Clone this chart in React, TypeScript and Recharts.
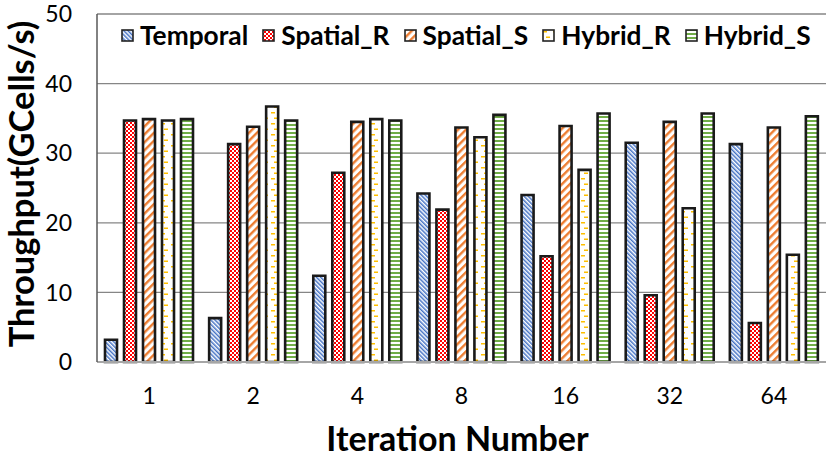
import React from 'react';
import { BarChart, Bar, XAxis, YAxis, CartesianGrid, Legend } from 'recharts';

const categories = ['1', '2', '4', '8', '16', '32', '64'];
const temporal = [3.2, 6.3, 12.4, 24.2, 24.0, 31.5, 31.3];
const spatialR = [34.7, 31.3, 27.2, 21.9, 15.2, 9.6, 5.6];
const spatialS = [34.9, 33.8, 34.5, 33.7, 33.9, 34.5, 33.7];
const hybridR = [34.7, 36.7, 34.9, 32.3, 27.6, 22.1, 15.4];
const hybridS = [34.9, 34.7, 34.7, 35.5, 35.7, 35.7, 35.3];
const yTicks = [0, 10, 20, 30, 40, 50];

const seriesNames = ['Temporal', 'Spatial_R', 'Spatial_S', 'Hybrid_R', 'Hybrid_S'];
const seriesKeys = ['temporal', 'spatialR', 'spatialS', 'hybridR', 'hybridS'];

const data = categories.map((c, i) => ({
  name: c,
  temporal: temporal[i],
  spatialR: spatialR[i],
  spatialS: spatialS[i],
  hybridR: hybridR[i],
  hybridS: hybridS[i],
}));

const FONT = 'Lato, "Open Sans", sans-serif';

const Patterns = () => (
  <defs>
    <pattern id="p-temporal" width="3" height="3" patternUnits="userSpaceOnUse" patternTransform="rotate(-45)">
      <rect width="3" height="3" fill="#fff" />
      <rect width="1.5" height="3" fill="#4472C4" />
    </pattern>
    <pattern id="p-spatialR" width="4" height="4" patternUnits="userSpaceOnUse">
      <rect width="4" height="4" fill="#fff" />
      <rect x="0" y="0" width="2" height="2" fill="#FF0000" />
      <rect x="2" y="2" width="2" height="2" fill="#FF0000" />
    </pattern>
    <pattern id="p-spatialS" width="5.6" height="5.6" patternUnits="userSpaceOnUse" patternTransform="rotate(45)">
      <rect width="5.6" height="5.6" fill="#fff" />
      <rect width="2.4" height="5.6" fill="#ED7D31" />
    </pattern>
    <pattern id="p-hybridR" width="10" height="11" patternUnits="userSpaceOnUse">
      <rect width="10" height="11" fill="#fff" />
      <rect x="1" y="2" width="4" height="1.5" fill="#FFC000" />
      <rect x="4" y="7.5" width="4" height="1.5" fill="#FFC000" />
    </pattern>
    <pattern id="p-hybridS" width="4" height="4" patternUnits="userSpaceOnUse">
      <rect width="4" height="4" fill="#fff" />
      <rect width="4" height="2" fill="#70AD47" />
    </pattern>
  </defs>
);

const LegendContent = () => (
  <div style={{ display: 'flex', alignItems: 'center', fontFamily: FONT, fontWeight: 700, fontSize: 26.3, lineHeight: '30px', color: '#000', whiteSpace: 'nowrap' }}>
    {seriesKeys.map((k, i) => (
      <div key={k} style={{ display: 'flex', alignItems: 'center', marginRight: 14 }}>
        <svg width={13} height={13} style={{ marginRight: 6 }}>
          <rect x={1} y={1} width={11} height={11} fill={`url(#p-${k})`} stroke="#222" strokeWidth={1.6} />
        </svg>
        <span>{seriesNames[i]}</span>
      </div>
    ))}
  </div>
);

const YTitle = (props: any) => {
  const vb = props.viewBox || { y: 14, height: 348 };
  const cy = vb.y + vb.height / 2 - 4;
  const x = 34;
  return (
    <text x={x} y={cy} transform={`rotate(-90, ${x}, ${cy})`} textAnchor="middle" fontFamily={FONT} fontWeight={700} fontSize={34.5} fill="#000">
      Throughput(GCells/s)
    </text>
  );
};

const XTitle = (props: any) => {
  const vb = props.viewBox || { x: 97, width: 729 };
  const cx = vb.x + vb.width / 2 - 4;
  return (
    <text x={cx} y={451} textAnchor="middle" fontFamily={FONT} fontWeight={700} fontSize={34} fill="#000">
      Iteration Number
    </text>
  );
};

export default function App() {
  return (
    <div style={{ position: 'absolute', left: 0, top: 0, width: 831, height: 458, background: '#fff' }}>
      <BarChart
        width={831}
        height={458}
        data={data}
        margin={{ top: 14, right: 5, bottom: 0, left: 0 }}
        barSize={12}
        barGap={7}
      >
        <Patterns />
        <CartesianGrid vertical={false} stroke="#868686" strokeWidth={1.3} />
        <XAxis
          dataKey="name"
          height={96}
          tickLine={false}
          tickSize={0}
          tickMargin={26}
          axisLine={{ stroke: '#a6a6a6', strokeWidth: 2 }}
          tick={{ fontFamily: FONT, fontSize: 23, fill: '#000' }}
          label={{ content: XTitle }}
        />
        <XAxis xAxisId="top" dataKey="name" orientation="top" height={0} tick={false} tickLine={false} axisLine={{ stroke: '#595959', strokeWidth: 1.5 }} />
        <YAxis
          width={97}
          domain={[0, 50]}
          ticks={yTicks}
          interval={0}
          tickLine={false}
          tickSize={0}
          tickMargin={25}
          axisLine={{ stroke: '#595959', strokeWidth: 1.5 }}
          tick={{ fontFamily: FONT, fontSize: 23, fill: '#000' }}
          label={{ content: YTitle }}
        />
        <YAxis yAxisId="right" orientation="right" width={0} tick={false} tickLine={false} axisLine={{ stroke: '#595959', strokeWidth: 1.5 }} />
        <Legend
          layout="horizontal"
          verticalAlign="middle"
          align="center"
          content={<LegendContent />}
          wrapperStyle={{ top: 20, left: 121, width: 'auto' }}
        />
        {seriesKeys.map((k, i) => (
          <Bar
            key={k}
            dataKey={k}
            name={seriesNames[i]}
            fill={`url(#p-${k})`}
            stroke="#1a1a1a"
            strokeWidth={2.6}
            isAnimationActive={false}
          />
        ))}
      </BarChart>
    </div>
  );
}
